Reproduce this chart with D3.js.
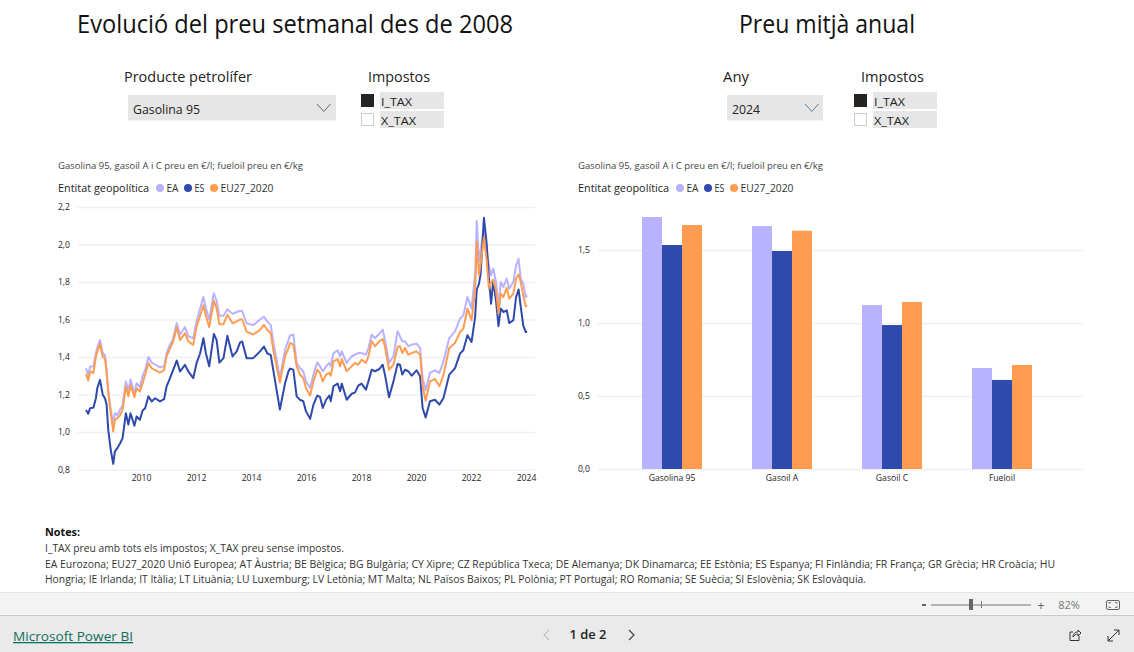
<!DOCTYPE html>
<html lang="ca"><head><meta charset="utf-8">
<script src="https://cdn.jsdelivr.net/npm/d3@7/dist/d3.min.js"></script>
<style>
html,body{margin:0;padding:0;background:#fff;overflow:hidden}
svg{display:block;font-family:"Open Sans","Noto Sans",sans-serif}
.grid line{stroke:#f0f0f0;stroke-width:1.5}
.grid .domain{display:none}
.tk{font-family:"Open Sans","Noto Sans",sans-serif}
.tk text{font-size:8.6px;fill:#252423}
</style></head><body>
<svg id="c" width="1134" height="652"></svg>
<script>
const seriesNames = ["EA","ES","EU27_2020"];
const seriesColors = ["#b9b2ff","#2f4aad","#ff9c52"];
const weekYears = [2008.00,2008.08,2008.15,2008.27,2008.36,2008.41,2008.51,2008.61,2008.69,2008.75,2008.81,2008.90,2008.99,
2009.05,2009.14,2009.24,2009.33,2009.45,2009.54,2009.62,2009.76,2009.84,2009.96,
2010.06,2010.15,2010.27,2010.39,2010.51,2010.69,2010.84,2010.93,
2011.03,2011.15,2011.30,2011.42,2011.60,2011.72,2011.90,
2012.02,2012.15,2012.27,2012.36,2012.48,2012.65,2012.75,2012.85,
2013.00,2013.14,2013.33,2013.48,2013.60,2013.68,2013.84,
2014.08,2014.33,2014.47,2014.59,2014.72,2014.81,
2015.05,2015.24,2015.36,2015.42,2015.54,2015.66,2015.78,2015.90,
2016.00,2016.15,2016.27,2016.41,2016.51,2016.61,2016.73,2016.85,2016.90,
2017.00,2017.15,2017.24,2017.30,2017.48,2017.66,2017.78,2017.90,
2018.02,2018.18,2018.27,2018.39,2018.51,2018.67,2018.79,2018.87,
2019.02,2019.18,2019.33,2019.42,2019.50,2019.60,2019.72,2019.84,
2020.02,2020.15,2020.24,2020.35,2020.51,2020.69,2020.85,
2021.00,2021.21,2021.42,2021.60,2021.72,2021.87,
2022.02,2022.15,2022.21,2022.29,2022.35,2022.47,2022.57,2022.65,2022.73,2022.81,2022.91,
2023.00,2023.08,2023.18,2023.30,2023.39,2023.54,2023.64,2023.73,2023.81,2023.90,2023.99,2024.04];
const priceEA = [1.34,1.30,1.35,1.35,1.42,1.45,1.49,1.42,1.41,1.33,1.22,1.12,1.04,
1.10,1.09,1.12,1.14,1.27,1.22,1.28,1.21,1.26,1.24,
1.30,1.33,1.40,1.37,1.36,1.345,1.35,1.42,
1.46,1.49,1.58,1.52,1.56,1.51,1.50,
1.59,1.66,1.72,1.66,1.60,1.74,1.70,1.62,
1.62,1.655,1.63,1.64,1.645,1.645,1.58,
1.57,1.60,1.615,1.59,1.57,1.48,
1.29,1.44,1.49,1.515,1.52,1.368,1.341,1.324,
1.27,1.235,1.306,1.372,1.35,1.324,1.35,1.368,1.35,
1.421,1.436,1.404,1.43,1.368,1.404,1.412,1.421,
1.421,1.412,1.448,1.519,1.501,1.524,1.546,1.492,
1.368,1.404,1.537,1.51,1.484,1.484,1.457,1.466,
1.471,1.448,1.288,1.222,1.315,1.329,1.315,
1.377,1.501,1.537,1.604,1.622,1.72,
1.658,1.844,2.125,1.907,1.969,2.084,1.969,1.889,1.836,1.871,1.80,
1.667,1.80,1.773,1.818,1.764,1.80,1.889,1.924,1.818,1.791,1.72,1.729];
const priceES = [1.118,1.097,1.127,1.13,1.18,1.234,1.278,1.198,1.18,1.145,1.01,.905,.83,
.896,.914,.94,.967,1.10,1.04,1.10,1.033,1.083,1.065,
1.115,1.127,1.19,1.163,1.18,1.163,1.175,1.243,
1.278,1.323,1.381,1.323,1.358,1.323,1.287,
1.367,1.42,1.50,1.42,1.35,1.523,1.49,1.37,
1.394,1.513,1.403,1.43,1.477,1.483,1.394,
1.394,1.43,1.456,1.42,1.41,1.33,
1.12,1.26,1.323,1.338,1.332,1.19,1.172,1.164,
1.11,1.07,1.146,1.194,1.187,1.128,1.172,1.194,1.164,
1.244,1.258,1.217,1.258,1.172,1.204,1.21,1.247,
1.258,1.226,1.27,1.332,1.324,1.336,1.359,1.306,
1.185,1.27,1.363,1.359,1.306,1.332,1.324,1.30,
1.329,1.297,1.128,1.078,1.164,1.172,1.146,
1.181,1.306,1.341,1.418,1.436,1.516,
1.48,1.613,1.76,1.79,1.844,2.143,2.004,1.818,1.684,1.809,1.70,
1.564,1.658,1.64,1.649,1.581,1.596,1.72,1.76,1.667,1.569,1.533,1.536];
const priceEU = [1.308,1.275,1.323,1.314,1.403,1.43,1.47,1.40,1.394,1.314,1.207,1.10,1.003,
1.065,1.074,1.09,1.118,1.243,1.19,1.25,1.186,1.234,1.216,
1.26,1.305,1.367,1.34,1.33,1.317,1.33,1.403,
1.438,1.474,1.559,1.49,1.527,1.483,1.465,
1.563,1.62,1.676,1.62,1.56,1.70,1.66,1.575,
1.575,1.625,1.58,1.59,1.60,1.60,1.535,
1.52,1.545,1.572,1.545,1.527,1.438,
1.264,1.403,1.447,1.475,1.466,1.35,1.306,1.288,
1.235,1.194,1.27,1.332,1.315,1.27,1.306,1.315,1.30,
1.377,1.389,1.35,1.389,1.324,1.35,1.368,1.359,
1.386,1.368,1.404,1.484,1.457,1.484,1.496,1.457,
1.332,1.359,1.453,1.457,1.421,1.448,1.412,1.421,
1.43,1.412,1.244,1.167,1.27,1.283,1.244,
1.306,1.448,1.475,1.533,1.551,1.658,
1.596,1.756,2.013,1.836,1.898,2.036,1.916,1.764,1.80,1.809,1.756,
1.631,1.738,1.72,1.77,1.711,1.738,1.818,1.841,1.80,1.729,1.67,1.676];
const lineYTicks = [0.8,1.0,1.2,1.4,1.6,1.8,2.0,2.2];
const lineXTicks = [2010,2012,2014,2016,2018,2020,2022,2024];
const products = ["Gasolina 95","Gasoil A","Gasoil C","Fueloil"];
const avgEA = [1.726,1.664,1.123,0.692];
const avgES = [1.534,1.493,0.986,0.61];
const avgEU = [1.671,1.632,1.144,0.712];
const barYTicks = [0,0.5,1.0,1.5];

const svg = d3.select("#c");
const ca = d3.formatLocale({decimal:",",thousands:".",grouping:[3],currency:["","€"]});
const fmt = ca.format(".1f");
function t(x,y,s,size,o={}){
  const e = svg.append("text").attr("x",x).attr("y",y).attr("font-size",size)
    .attr("fill",o.fill||"#252423").attr("text-anchor",o.anchor||"start").text(s);
  if(o.w) e.attr("textLength",o.w).attr("lengthAdjust","spacingAndGlyphs");
  if(o.weight) e.attr("font-weight",o.weight);
  if(o.deco) e.attr("text-decoration",o.deco);
  return e;
}
// titles
t(77,33,"Evolució del preu setmanal des de 2008",26,{fill:"#111",w:436});
t(739,33,"Preu mitjà anual",26,{fill:"#111",w:176});

// slicers
function chev(x,y,w,h,c){svg.append("path").attr("d",`M${x} ${y}L${x+w/2} ${y+h}L${x+w} ${y}`).attr("fill","none").attr("stroke",c).attr("stroke-width",1);}
function rect(x,y,w,h,f,s){const r=svg.append("rect").attr("x",x).attr("y",y).attr("width",w).attr("height",h).attr("fill",f);if(s)r.attr("stroke",s);return r;}
function slicer(lx,label,lw,dx,dw,val,vw,cx,cc,ix,iw){
  t(lx,82,label,14,{fill:"#222",w:lw});
  rect(dx,95,dw,25.5,"#e6e6e6");
  t(dx+5,114,val,12.5,{fill:"#222",w:vw});
  chev(dx+dw-cx,104,13.5,7.5,cc);
  t(ix,82,"Impostos",14,{fill:"#222",w:iw});
  const bx=ix-7;
  rect(bx,94,13,13,"#252423");
  rect(bx+.5,113.5,12,12,"#fff","#ccc");
  rect(bx+19,92,64,17,"#e6e6e6");
  rect(bx+19,111,64,17,"#e6e6e6");
  t(bx+20,105.5,"I_TAX",11.5,{fill:"#222",w:31});
  t(bx+20,124.5,"X_TAX",11.5,{fill:"#222",w:35});
}
slicer(124,"Producte petrolífer",128,128,208,"Gasolina 95",67,19,"#6b6460",368,62);
slicer(723,"Any",26,727,96,"2024",28,18,"#5d7f9a",861,63);

// chart headers
function header(x,dots,w){
  t(x,169,"Gasolina 95, gasoil A i C preu en €/l; fueloil preu en €/kg",9,{fill:"#444",w:245});
  t(x,191.5,"Entitat geopolítica",10.5,{fill:"#222",w:91});
  seriesNames.forEach((n,i)=>{
    svg.append("circle").attr("cx",dots[i]).attr("cy",188).attr("r",4).attr("fill",seriesColors[i]);
    t(dots[i]+6.5,191.5,n,10.5,{fill:"#333",w:w[i]});
  });
}
header(58,[160,188,214],[12,10,53]);
header(578,[680,708,734],[12,10,53]);

// line chart
const xL = d3.scaleLinear().domain([2008,2024]).range([86,526]);
const yL = d3.scaleLinear().domain([0.8,2.2]).range([469.5,207]);
const gy = svg.append("g").attr("class","grid tk").attr("transform","translate(78,0)")
  .call(d3.axisLeft(yL).tickValues(lineYTicks).tickSize(-457).tickPadding(8).tickFormat(fmt));
const gx = svg.append("g").attr("class","tk").attr("transform","translate(0,469.5)")
  .call(d3.axisBottom(xL).tickValues(lineXTicks).tickSize(0).tickPadding(5).tickFormat(d3.format("d")));
gx.select(".domain").remove();
const line = d3.line().x(d=>xL(d[0])).y(d=>yL(d[1]));
[priceEA,priceES,priceEU].forEach((vals,i)=>{
  svg.append("path").datum(weekYears.map((y,k)=>[y,vals[k]])).attr("d",line)
    .attr("fill","none").attr("stroke",seriesColors[i]).attr("stroke-width",2).attr("stroke-linejoin","round");
});

// bar chart
const x0 = d3.scaleBand().domain(products).range([617,1057]).paddingInner(50/110).paddingOuter(25/110);
const x1 = d3.scaleBand().domain(seriesNames).range([0,x0.bandwidth()]);
const yB = d3.scaleLinear().domain([0,1.5]).range([469,250]);
svg.append("g").attr("class","grid tk").attr("transform","translate(598,0)")
  .call(d3.axisLeft(yB).tickValues(barYTicks).tickSize(-485).tickPadding(8).tickFormat(fmt));
const gb = svg.append("g").attr("class","tk").attr("transform","translate(0,469)")
  .call(d3.axisBottom(x0).tickSize(0).tickPadding(6));
gb.select(".domain").remove();
[avgEA,avgES,avgEU].forEach((vals,i)=>{
  svg.append("g").selectAll("rect").data(products).join("rect")
    .attr("x",p=>x0(p)+x1(seriesNames[i])).attr("width",x1.bandwidth())
    .attr("y",(p,k)=>yB(vals[k])).attr("height",(p,k)=>yB(0)-yB(vals[k]))
    .attr("fill",seriesColors[i]);
});

// notes
t(45,536,"Notes:",10.5,{fill:"#111",weight:"700",w:35});
t(45,552,"I_TAX preu amb tots els impostos; X_TAX preu sense impostos.",10,{fill:"#333",w:299});
t(45,568,"EA Eurozona; EU27_2020 Unió Europea; AT Àustria; BE Bèlgica; BG Bulgària; CY Xipre; CZ República Txeca; DE Alemanya; DK Dinamarca; EE Estònia; ES Espanya; FI Finlàndia; FR França; GR Grècia; HR Croàcia; HU",10,{fill:"#333",w:1010});
t(45,583,"Hongria; IE Irlanda; IT Itàlia; LT Lituània; LU Luxemburg; LV Letònia; MT Malta; NL Països Baixos; PL Polònia; PT Portugal; RO Romania; SE Suècia; SI Eslovènia; SK Eslovàquia.",10,{fill:"#333",w:821});

// report chrome
rect(0,592,1134,23,"#f3f3f3");
rect(0,592,1134,1,"#e3e3e3");
rect(0,615,1134,1,"#c8c8c8");
rect(0,616,1134,36,"#eaeaea");
rect(922,604,4,2,"#666");
rect(931,604.5,100,1,"#777");
rect(969,599,4,11,"#666");
rect(981,601,1,7,"#777");
t(1041,609.5,"+",13,{fill:"#666",anchor:"middle"});
t(1069,609,"82%",11,{fill:"#777",anchor:"middle"});
svg.append("rect").attr("x",1106.5).attr("y",600.5).attr("width",13).attr("height",9).attr("rx",1.5).attr("fill","none").attr("stroke","#666");
svg.append("path").attr("d","M1109 604V602.5H1111M1115 602.5H1117V604M1109 606V607.5H1111M1115 607.5H1117V606").attr("fill","none").attr("stroke","#666").attr("stroke-width",.8);
t(13,641,"Microsoft Power BI",13,{fill:"#0f6f5e",deco:"underline",w:120});
t(588,639,"1 de 2",12,{fill:"#222",anchor:"middle",weight:"600",w:37});
svg.append("path").attr("d","M549 630L544 635L549 640").attr("fill","none").attr("stroke","#c4c4c4").attr("stroke-width",1.2);
svg.append("path").attr("d","M629 630L634 635L629 640").attr("fill","none").attr("stroke","#444").attr("stroke-width",1.2);
svg.append("path").attr("d","M1073 632H1070V640.5H1079V636M1073 637C1073 633 1076 632 1078 632V630L1081 633L1078 636V634C1076 634 1074 635 1073 637Z").attr("fill","none").attr("stroke","#333");
svg.append("path").attr("d","M1108 641L1119 630M1114 630H1119V635M1108 636V641H1113").attr("fill","none").attr("stroke","#333");
</script></body></html>
